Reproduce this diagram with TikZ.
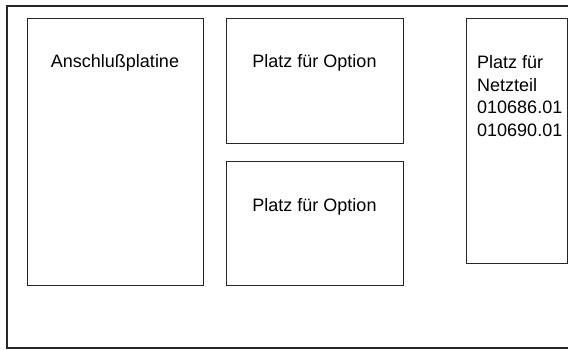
\documentclass[tikz,border=0pt]{standalone}
\usepackage{fontspec}
\setmainfont{Liberation Sans}
\begin{document}
\begin{tikzpicture}[x=1pt,y=1pt,
  frame/.style={draw=black!85,line width=1.1pt},
  box/.style={draw=black!85,line width=1.1pt,inner sep=0pt,anchor=north west},
  lbl/.style={font=\fontsize{18}{22.5}\selectfont,inner sep=0pt}]
\useasboundingbox (0,0) rectangle (568,349);
% outer frame (open at right)
\coordinate (otr) at (572,343);
\coordinate (otl) at (7,343);
\coordinate (obl) at (7,1);
\coordinate (obr) at (572,1);
\draw[frame] (otr) -- (otl) -- (obl) -- (obr);
% boxes
\node[box,minimum width=176pt,minimum height=267pt] (ans) at (27,331) {};
\node[box,minimum width=177pt,minimum height=125pt] (opt1) at (226,331) {};
\node[box,minimum width=177pt,minimum height=124pt] (opt2) at (226,188) {};
\node[box,minimum width=101pt,minimum height=245pt] (netz) at (466,331) {};
% labels
\node[lbl,anchor=base] (tans) at (115,281) {Anschlußplatine};
\node[lbl,anchor=base] (topt1) at (314.5,281) {Platz für Option};
\node[lbl,anchor=base] (topt2) at (314.5,138) {Platz für Option};
\node[lbl,anchor=north west,align=left] (tnetz) at (477,293.7) {Platz für\\Netzteil\\010686.01\\010690.01};
\end{tikzpicture}
\end{document}
